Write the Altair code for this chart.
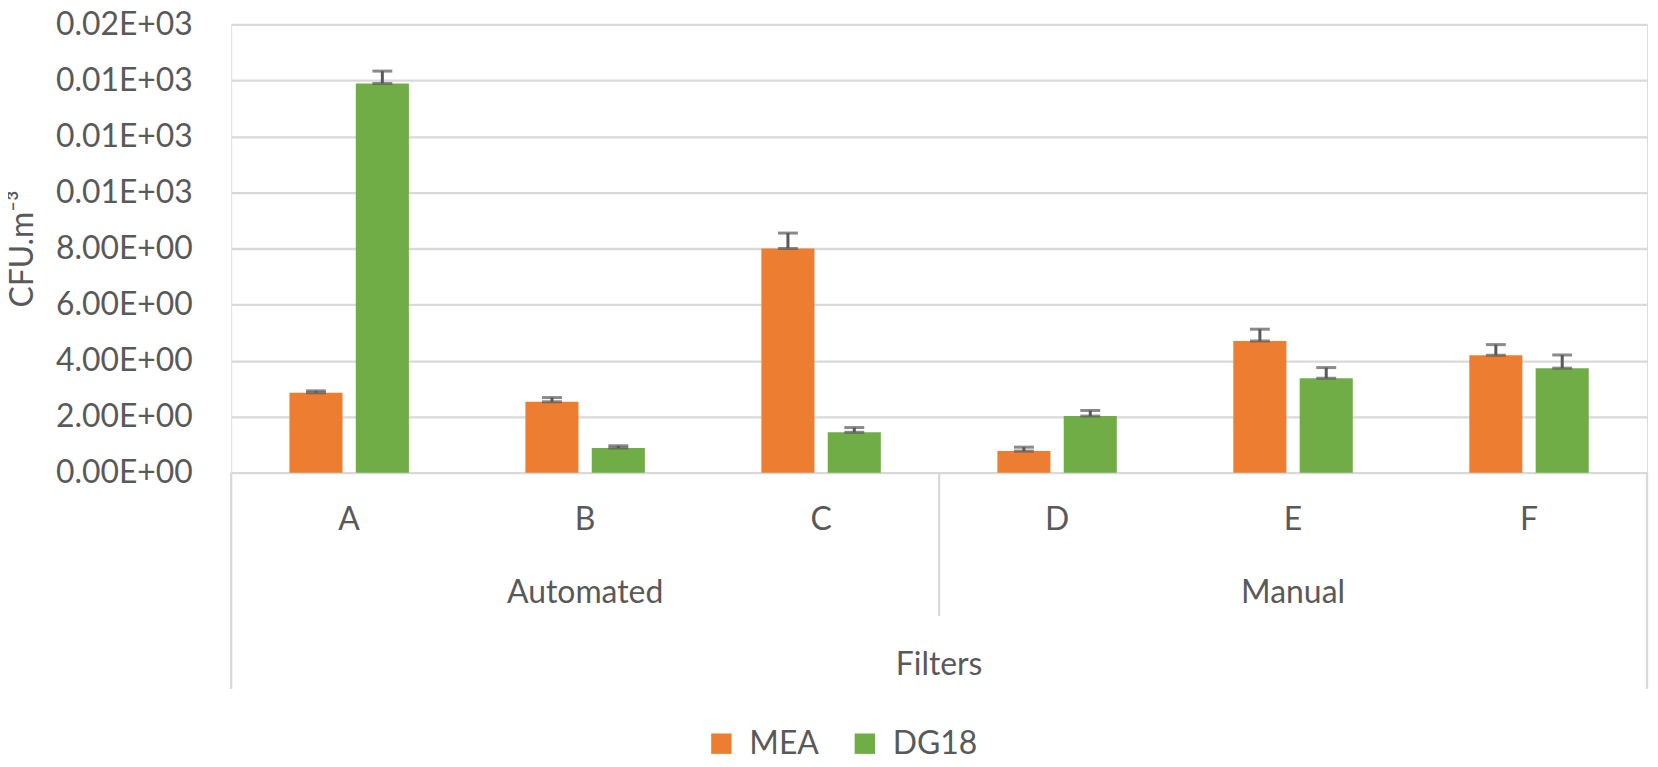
import json
import altair as alt
import pandas as pd

# ---- data ----
filters = ["A", "B", "C", "D", "E", "F"]
groups = ["Automated", "Automated", "Automated", "Manual", "Manual", "Manual"]
media = ["MEA", "DG18"]
mea = [2.85, 2.53, 8.00, 0.77, 4.70, 4.19]
mea_err = [0.07, 0.15, 0.55, 0.14, 0.42, 0.38]
dg18 = [13.89, 0.88, 1.44, 2.02, 3.37, 3.73]
dg18_err = [0.44, 0.08, 0.17, 0.20, 0.38, 0.47]
y_ticks = [0, 2, 4, 6, 8, 10, 12, 14, 16]
y_labels = ["0.00E+00", "2.00E+00", "4.00E+00", "6.00E+00", "8.00E+00",
            "0.01E+03", "0.01E+03", "0.01E+03", "0.02E+03"]
colors = ["#ED7D31", "#70AD47"]

rows = []
for i, f in enumerate(filters):
    rows.append({"filter": f, "group": groups[i], "medium": "MEA",
                 "value": mea[i], "upper": mea[i] + mea_err[i]})
    rows.append({"filter": f, "group": groups[i], "medium": "DG18",
                 "value": dg18[i], "upper": dg18[i] + dg18_err[i]})
df = pd.DataFrame(rows)

filt_df = pd.DataFrame({"filter": filters})

# group label rows (centered on the middle filter of each group)
grp_rows = []
for g in dict.fromkeys(groups):
    members = [f for f, gg in zip(filters, groups) if gg == g]
    grp_rows.append({"filter": members[len(members) // 2], "group": g})
grp_df = pd.DataFrame(grp_rows)

# separators: outer edges and the group boundary
outer_l = pd.DataFrame({"filter": filters[:1]})
outer_r = pd.DataFrame({"filter": filters[-1:]})
inner_firsts = [f for k, (f, g) in enumerate(zip(filters, groups)) if k > 0 and groups[k - 1] != g]
inner_df = pd.DataFrame({"filter": inner_firsts})
title_df = pd.DataFrame({"filter": inner_firsts[:1], "label": ["Filters"]})

W, H = 1421, 450
FONT = "Lato"
GREY = "#595959"
GRID = "#D9D9D9"
FS = 32

xscale = alt.Scale(domain=filters, paddingInner=0, paddingOuter=0)
xoff = alt.XOffset("medium:N", sort=media,
                   scale=alt.Scale(domain=media, paddingInner=0.2, paddingOuter=0.878))
yscale = alt.Scale(domain=[0, 16], nice=False)

label_expr = json.dumps(y_labels) + "[round(datum.value / 2)]"

base = alt.Chart(df)

bars = base.mark_bar().encode(
    x=alt.X("filter:N", sort=filters, scale=xscale, axis=None),
    xOffset=xoff,
    y=alt.Y("value:Q", scale=yscale,
            axis=alt.Axis(values=y_ticks, labelExpr=label_expr, title="CFU.m⁻³",
                          ticks=False, domain=False, grid=True, gridColor=GRID,
                          gridWidth=2.3, labelFont=FONT, labelFontSize=FS,
                          labelColor=GREY, labelPadding=39,
                          titleFont=FONT, titleFontSize=FS, titleColor=GREY,
                          titleFontWeight="normal", titleX=-209, titleY=H / 2,
                          titleAngle=270, titleAlign="center", titleBaseline="middle")),
    color=alt.Color("medium:N", sort=media,
                    scale=alt.Scale(domain=media, range=colors),
                    legend=alt.Legend(title=None, orient="none", legendX=476, legendY=706,
                                      direction="horizontal", symbolType="square",
                                      symbolSize=420, symbolStrokeWidth=0,
                                      labelFont=FONT, labelFontSize=FS, labelColor=GREY,
                                      labelOffset=12, columnPadding=30, padding=0)),
)

err_rule = base.mark_rule(color=GREY, strokeWidth=3).encode(
    x=alt.X("filter:N", sort=filters, axis=None),
    xOffset=xoff,
    y=alt.Y("value:Q"),
    y2="upper:Q",
)
cap_lo = base.mark_tick(color=GREY, thickness=3, size=20).encode(
    x=alt.X("filter:N", sort=filters, axis=None),
    xOffset=xoff,
    y=alt.Y("value:Q"),
)
cap_hi = base.mark_tick(color=GREY, thickness=3, size=20).encode(
    x=alt.X("filter:N", sort=filters, axis=None),
    xOffset=xoff,
    y=alt.Y("upper:Q"),
)

rule_l = alt.Chart(outer_l).mark_rule(color=GRID, strokeWidth=2.3).encode(
    x=alt.X("filter:N", axis=None, bandPosition=0),
    y=alt.value(H), y2=alt.value(H + 217),
)
rule_r = alt.Chart(outer_r).mark_rule(color=GRID, strokeWidth=2.3).encode(
    x=alt.X("filter:N", axis=None, bandPosition=1),
    y=alt.value(H), y2=alt.value(H + 217),
)
rule_mid = alt.Chart(inner_df).mark_rule(color=GRID, strokeWidth=2.3).encode(
    x=alt.X("filter:N", axis=None, bandPosition=0),
    y=alt.value(H), y2=alt.value(H + 144),
)

filt_text = alt.Chart(filt_df).mark_text(font=FONT, fontSize=FS, color=GREY,
                                         baseline="middle").encode(
    x=alt.X("filter:N", axis=None),
    y=alt.value(H + 48),
    text="filter:N",
)
grp_text = alt.Chart(grp_df).mark_text(font=FONT, fontSize=FS, color=GREY,
                                       baseline="middle").encode(
    x=alt.X("filter:N", axis=None),
    y=alt.value(H + 121),
    text="group:N",
)
title_text = alt.Chart(title_df).mark_text(font=FONT, fontSize=FS, color=GREY,
                                           baseline="middle").encode(
    x=alt.X("filter:N", axis=None, bandPosition=0),
    y=alt.value(H + 193),
    text="label:N",
)

chart = alt.layer(bars, err_rule, cap_lo, cap_hi, rule_l, rule_r, rule_mid,
                  filt_text, grp_text, title_text).properties(
    width=W, height=H,
    autosize=alt.AutoSizeParams(type="none"),
    padding={"left": 224, "top": 15, "right": 3, "bottom": 286},
).configure_view(stroke=None).configure(background="white")

chart.save("out.html", embed_options={"renderer": "svg", "actions": False})
